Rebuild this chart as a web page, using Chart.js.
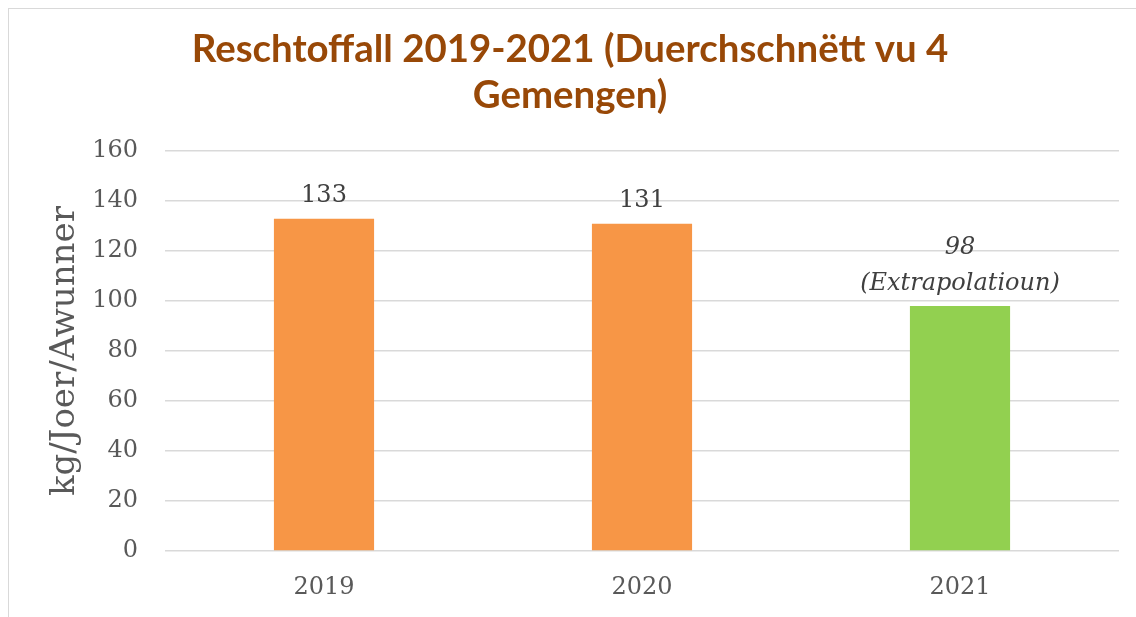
<!DOCTYPE html>
<html>
<head>
<meta charset="utf-8">
<script src="https://cdn.jsdelivr.net/npm/chart.js@4.4.0/dist/chart.umd.min.js"></script>
<style>
  html, body { margin: 0; padding: 0; background: #fff; }
  #frame { position: absolute; left: 8px; top: 8px; width: 1128px; height: 609px;
           border-left: 1px solid #d9d9d9; border-top: 1px solid #d9d9d9; }
  #wrap { position: absolute; left: 0; top: 0; width: 1136px; height: 617px; }
</style>
</head>
<body>
<div id="frame"></div>
<div id="wrap"><canvas id="mycanvas"></canvas></div>
<script>
const years = ["2019", "2020", "2021"];
const wastePerPerson = [133, 131, 98];
const notes = ["", "", "(Extrapolatioun)"];
const barColors = ["#F79646", "#F79646", "#92D050"];
const yTicks = [0, 20, 40, 60, 80, 100, 120, 140, 160];

const serif = "'DejaVu Serif', serif";

// value labels above each bar, the extrapolated year in italics
const barLabels = {
  id: "barLabels",
  afterDatasetsDraw(chart) {
    const ctx = chart.ctx;
    const meta = chart.getDatasetMeta(0);
    ctx.save();
    ctx.fillStyle = "#404040";
    ctx.textAlign = "center";
    ctx.textBaseline = "alphabetic";
    meta.data.forEach(function (bar, i) {
      const italic = notes[i] !== "";
      ctx.font = (italic ? "italic " : "") + "24px " + serif;
      if (italic) {
        ctx.fillText(String(wastePerPerson[i]), bar.x, bar.y - 52);
        ctx.fillText(notes[i], bar.x, bar.y - 16);
      } else {
        ctx.fillText(String(wastePerPerson[i]), bar.x, bar.y - 17);
      }
    });
    ctx.restore();
  }
};

const data = {
  labels: years,
  datasets: [
    {
      label: "Reschtoffall",
      data: wastePerPerson,
      backgroundColor: barColors,
      borderWidth: 0,
      categoryPercentage: 1,
      barPercentage: 0.315,
    },
  ],
};

let chartOptions = {
  responsive: true,
  maintainAspectRatio: false,
  animation: false,
  layout: { padding: { top: 0, left: 21, right: 17, bottom: 0 } },
  plugins: {
    legend: { display: false },
    tooltip: { enabled: false },
    title: {
      display: true,
      text: ["Reschtoffall 2019-2021 (Duerchschnëtt vu 4", "Gemengen)"],
      color: "#984807",
      font: { family: "Lato, 'Noto Sans', sans-serif", size: 38.4, weight: "bold", lineHeight: 1.2 },
      padding: { top: 27, bottom: 32 },
    },
  },
  scales: {
    x: {
      grid: { display: false, drawTicks: false },
      border: { display: false },
      ticks: { color: "#595959", font: { family: serif, size: 24 }, padding: 22 },
      afterFit(scale) { scale.height = 66; },
    },
    y: {
      min: 0,
      max: 160,
      afterBuildTicks(scale) { scale.ticks = yTicks.map(v => ({ value: v })); },
      grid: { color: "#d9d9d9", lineWidth: 1.5, drawTicks: false },
      border: { display: false },
      ticks: { color: "#595959", font: { family: serif, size: 24 }, padding: 27 },
      title: {
        display: true,
        text: "kg/Joer/Awunner",
        color: "#595959",
        font: { family: serif, size: 34 },
        padding: { top: 24, bottom: 0 },
      },
      afterFit(scale) { scale.width = 144; },
    },
  },
};

let barChart = new Chart(document.getElementById("mycanvas"), {
  type: "bar",
  data: data,
  options: chartOptions,
  plugins: [barLabels],
});
</script>
</body>
</html>
